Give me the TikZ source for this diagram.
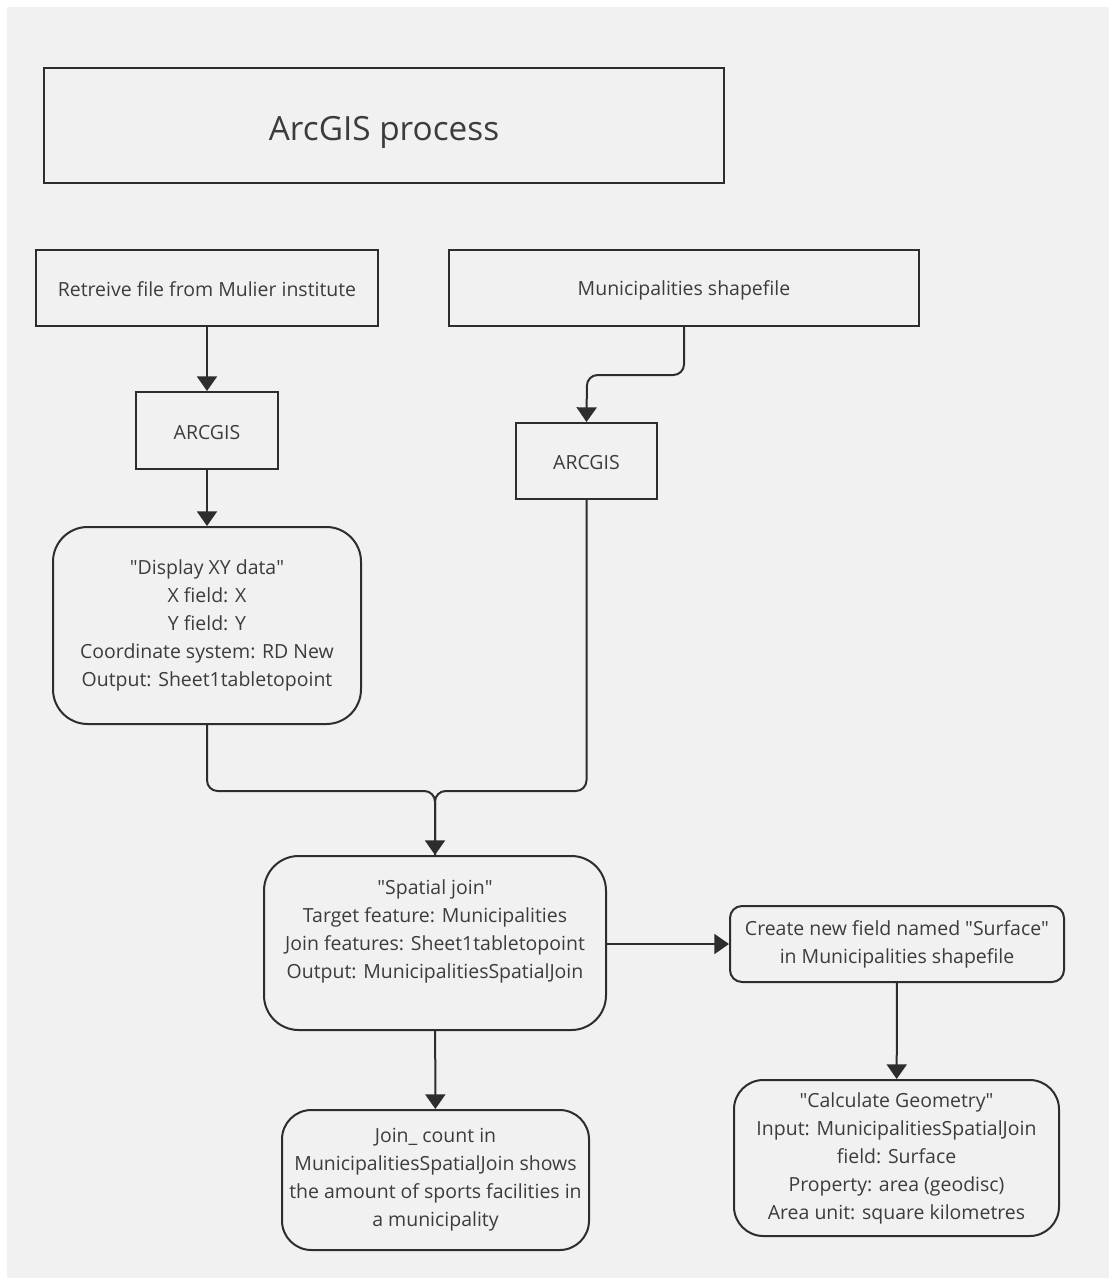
\documentclass[tikz,border=0pt]{standalone}
\usepackage{fontspec}
\setmainfont{Open Sans}
\usepackage{tikz}
\usetikzlibrary{arrows.meta}

\definecolor{bgcol}{RGB}{241,241,241}
\definecolor{linecol}{RGB}{45,45,45}
\definecolor{txtcol}{RGB}{60,60,60}
\newcommand{\qt}[1]{\textquotedbl#1\textquotedbl}

\begin{document}
\begin{tikzpicture}[x=0.75pt,y=0.75pt,yscale=-1,xscale=1,
  box/.style={draw=linecol,line width=1.5pt,fill=bgcol,text=txtcol,align=center,inner sep=0pt,
    font=\fontsize{14.6}{21}\selectfont},
  rbox/.style={box,rounded corners=#1},
  conn/.style={draw=linecol,line width=1.5pt,-{Triangle[width=15pt,length=11pt]}},
  line/.style={draw=linecol,line width=1.5pt}]
\useasboundingbox (0,0) rectangle (1109,1278);
\fill[white] (0,0) rectangle (1109,1278);
\fill[bgcol] (7,7) rectangle (1109,1278);

% Title
\node[box,minimum width=510pt,minimum height=86.25pt,font=\fontsize{25}{30}\selectfont] (title) at (384,125.5) {\rule{0pt}{28pt}ArcGIS process};

% Input boxes
\node[box,minimum width=256.5pt,minimum height=57pt] (retrieve) at (207,288) {\rule{0pt}{13pt}Retreive file from Mulier institute};
\node[box,minimum width=352.5pt,minimum height=57pt] (muni) at (684,288) {\rule{0pt}{14pt}Municipalities shapefile};

% ARCGIS boxes
\node[box,minimum width=106.5pt,minimum height=57.75pt] (arcl) at (207,430.5) {\rule{0pt}{13pt}ARCGIS};
\node[box,minimum width=105.75pt,minimum height=57pt] (arcr) at (586.5,461) {\rule{0pt}{13pt}ARCGIS};

% Process boxes
\node[rbox=26pt,minimum width=231pt,minimum height=147.75pt] (display) at (207,625.5)
  {\qt{Display XY data}\\X field: X\\Y field: Y\\Coordinate system: RD New\\Output: Sheet1tabletopoint};
\node[rbox=26pt,minimum width=256.5pt,minimum height=130.5pt] (spatial) at (435,943)
  {\qt{Spatial join}\\Target feature: Municipalities\\Join features: Sheet1tabletopoint\\Output: MunicipalitiesSpatialJoin\\\mbox{}};
\node[rbox=9pt,minimum width=250.5pt,minimum height=57pt] (field) at (897,944)
  {Create new field named \qt{Surface}\\in Municipalities shapefile};
\node[rbox=22pt,minimum width=243.75pt,minimum height=117pt] (geom) at (896.5,1158)
  {\qt{Calculate Geometry}\\Input: MunicipalitiesSpatialJoin\\field: Surface\\Property: area (geodisc)\\Area unit: square kilometres};
\node[rbox=22pt,minimum width=230.25pt,minimum height=105pt] (count) at (435.5,1180)
  {Join\_ count in\\MunicipalitiesSpatialJoin shows\\the amount of sports facilities in\\a municipality};

% Bend points
\coordinate (bendr) at (587,375);
\coordinate (merge) at (435,791);

% Connectors
\draw[conn] (retrieve) -- (arcl);
\draw[conn] (arcl) -- (display);
\draw[conn,rounded corners=8pt] (muni.south) |- (bendr) -- (arcr.north);
\draw[line,rounded corners=8pt] (arcr.south) |- (merge) -- (spatial.north);
\draw[conn,rounded corners=8pt] (display.south) |- (merge) -- (spatial.north);
\draw[conn] (spatial.east |- field.west) -- (field.west);
\draw[conn] (spatial) -- (count);
\draw[conn] (field) -- (geom);

\end{tikzpicture}
\end{document}
